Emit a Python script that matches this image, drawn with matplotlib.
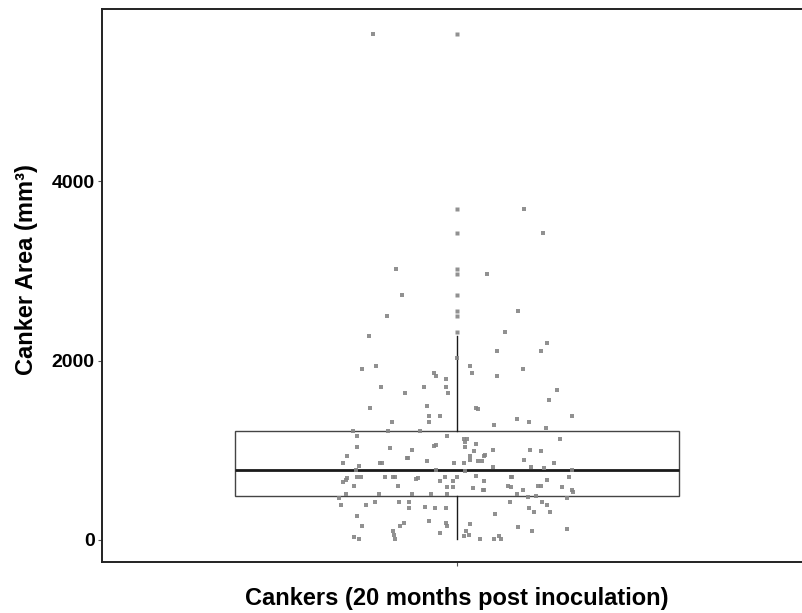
import matplotlib
matplotlib.use("Agg")
import matplotlib.pyplot as plt
import numpy as np

plt.rcParams["font.family"] = ["Liberation Sans", "DejaVu Sans"]
plt.rcParams["font.weight"] = "bold"

# Canker area (mm^3) for each canker, paired with its horizontal jitter offset
canker_area = [
    5638, 3691, 3424, 3015, 2962, 2730, 2491, 2547,
    2321, 2276, 2023, 1901, 1939, 1864, 1827, 1797, 1708, 1634,
    1708, 1708, 1634, 2190, 2106, 2106, 1939, 1861, 1827, 1901,
    1671, 1560, 1471, 1489, 1466, 1455, 1385, 1385, 1318, 1318,
    1285, 1352, 1318, 1385, 1251, 1218, 1218, 1218, 1155, 1155,
    1125, 1125, 1092, 1125, 1043, 1058, 1065, 1032, 1021, 1003,
    1032, 995, 1003, 1003, 987, 947, 940, 939, 932, 917,
    917, 895, 884, 884, 887, 880, 861, 861, 861, 861,
    861, 861, 828, 809, 809, 802, 775, 780, 764, 780,
    686, 672, 650, 702, 702, 702, 702, 702, 680, 686,
    702, 702, 716, 653, 653, 657, 702, 702, 669, 702,
    605, 602, 586, 586, 579, 560, 560, 602, 591, 560,
    605, 605, 594, 560, 538, 513, 513, 513, 513, 513,
    513, 468, 475, 490, 468, 390, 386, 427, 427, 427,
    357, 363, 352, 352, 427, 360, 315, 427, 390, 315,
    263, 293, 152, 193, 152, 212, 189, 152, 182, 148,
    100, 126, 100, 59, 14, 74, 96, 40, 56, 11,
    11, 48, 11, 33, 11,
]
jitter = [
    -0.142, 0.114, 0.146, -0.103, 0.051, -0.092, -0.118, 0.103,
    0.081, -0.148, 0.000, -0.161, -0.137, -0.038, -0.036, -0.018, -0.128, -0.087,
    -0.056, -0.019, -0.015, 0.152, 0.143, 0.068, 0.022, 0.026, 0.068, 0.111,
    0.170, 0.155, -0.146, -0.051, 0.032, 0.035, -0.047, -0.029, -0.047, -0.110,
    0.062, 0.101, 0.122, 0.194, 0.151, -0.176, -0.116, -0.063, -0.168, -0.017,
    0.012, 0.017, 0.014, 0.175, -0.038, -0.036, 0.032, -0.168, -0.113, -0.076,
    0.013, 0.029, 0.061, 0.124, 0.143, 0.047, 0.046, 0.023, -0.186, -0.085,
    -0.083, 0.023, 0.035, 0.042, 0.113, -0.051, -0.193, -0.130, -0.126, -0.004,
    0.012, 0.164, -0.165, 0.061, 0.126, 0.147, -0.171, -0.036, 0.014, 0.194,
    -0.186, -0.188, -0.192, -0.168, -0.162, -0.122, -0.108, -0.105, -0.069, -0.065,
    -0.020, 0.001, 0.032, -0.029, -0.007, 0.046, 0.092, 0.094, 0.153, 0.189,
    -0.173, -0.099, -0.017, -0.006, 0.027, 0.044, 0.046, 0.087, 0.092, 0.111,
    0.137, 0.143, 0.178, 0.194, 0.196, -0.188, -0.131, -0.076, -0.043, -0.017,
    0.101, -0.199, 0.121, 0.133, 0.186, -0.196, -0.153, -0.138, -0.098, -0.081,
    -0.081, -0.053, -0.037, -0.019, 0.089, 0.122, 0.131, 0.144, 0.152, 0.157,
    -0.169, 0.065, -0.160, -0.090, -0.096, -0.047, -0.019, -0.016, 0.022, 0.103,
    0.127, 0.186, -0.108, -0.106, -0.105, -0.029, 0.016, 0.012, 0.021, 0.039,
    0.062, 0.072, 0.075, -0.174, -0.165,
]

category = "Cankers (20 months post inoculation)"
y_ticks = [0, 2000, 4000]

values = np.array(canker_area, dtype=float)
offsets = np.array(jitter, dtype=float)

fig = plt.figure(figsize=(8.02, 6.13), dpi=100)
ax = fig.add_axes([101.7 / 802, 1 - 562.3 / 613, (812 - 101.7) / 802, (562.3 - 9.4) / 613])

point_color = "#858585"

ax.boxplot(
    [values], positions=[1], widths=0.75, whis=1.5, showcaps=False,
    patch_artist=True,
    boxprops=dict(facecolor="white", edgecolor="#444444", linewidth=1.0),
    medianprops=dict(color="#1a1a1a", linewidth=2.0),
    whiskerprops=dict(color="#1a1a1a", linewidth=1.0),
    flierprops=dict(marker="s", markersize=3.0, markerfacecolor=point_color,
                    markeredgecolor="none", alpha=0.9),
    zorder=1,
)

ax.scatter(1 + offsets, values, marker="s", s=10, color=point_color,
           linewidths=0, alpha=0.9, zorder=3)

ax.set_xlim(0.4, 1.6)
ax.set_ylim(-250, 5915)
ax.set_xticks([1])
ax.set_xticklabels([""])
ax.set_yticks(y_ticks)
ax.set_yticklabels([str(t) for t in y_ticks])

for side in ("left", "bottom", "top", "right"):
    ax.spines[side].set_color("#222222")
    ax.spines[side].set_linewidth(1.4)

ax.tick_params(axis="both", length=3, width=0.8, color="#555555",
               labelsize=14, pad=2)
for lbl in ax.get_yticklabels():
    lbl.set_fontweight("bold")
    lbl.set_color("black")

ax.set_ylabel("Canker Area (mm³)", fontsize=17, fontweight="bold")
ax.yaxis.set_label_coords(-0.09, 0.53)
ax.set_xlabel(category, fontsize=17, fontweight="bold", labelpad=13)

fig.savefig("out.png", dpi=100)
